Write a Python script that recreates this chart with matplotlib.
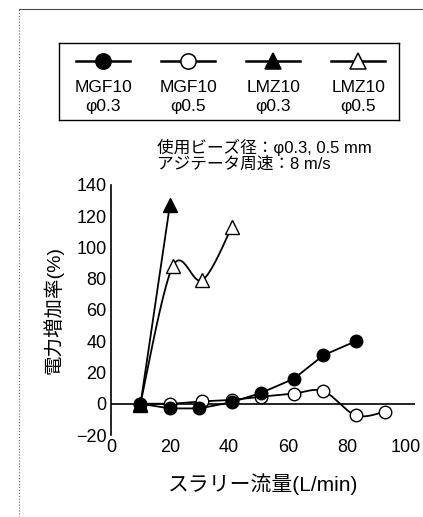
import numpy as np
import matplotlib.pyplot as plt
from matplotlib.lines import Line2D

plt.rcParams['font.family'] = ['Liberation Sans', 'Noto Sans CJK JP', 'DejaVu Sans']

# data
mgf03_x = [10, 20, 30, 41, 51, 62, 72, 83]
mgf03_y = [0, -3, -3, 1, 7, 16, 31, 40]
mgf05_x = [10, 20, 31, 41, 51, 62, 72, 83, 93]
mgf05_y = [0, 0, 1.5, 2.5, 4.5, 6.5, 8, -7.5, -5]
lmz03_x = [10, 20]
lmz03_y = [-1, 127]
lmz05_x = [10, 21, 31, 41]
lmz05_y = [0, 88, 79, 113]

labels = ['MGF10\nφ0.3', 'MGF10\nφ0.5', 'LMZ10\nφ0.3', 'LMZ10\nφ0.5']
xticks = [0, 20, 40, 60, 80, 100]
yticks = [-20, 0, 20, 40, 60, 80, 100, 120, 140]


def smooth(x, y, n=20):
    # Catmull-Rom style path through the points (like Excel smoothed lines)
    x = np.asarray(x, float)
    y = np.asarray(y, float)
    px = np.concatenate([[x[0]], x, [x[-1]]])
    py = np.concatenate([[y[0]], y, [y[-1]]])
    cx, cy = [], []
    t = np.linspace(0, 1, n)
    for i in range(1, len(px) - 2):
        for p, out in ((px, cx), (py, cy)):
            p0, p1, p2, p3 = p[i - 1], p[i], p[i + 1], p[i + 2]
            out.extend(0.5 * ((2 * p1) + (-p0 + p2) * t
                              + (2 * p0 - 5 * p1 + 4 * p2 - p3) * t ** 2
                              + (-p0 + 3 * p1 - 3 * p2 + p3) * t ** 3))
    return cx, cy


fig = plt.figure(figsize=(4.23, 5.17), dpi=100)
ax = fig.add_axes([0.262, 0.1586, 0.719, 0.484])

lw = 1.3
ax.axhline(0, color='black', lw=1.2, zorder=1)
ax.plot(mgf03_x, mgf03_y, color='black', lw=lw, marker='o', ms=9,
        mfc='black', mec='black', zorder=4)
sx, sy = smooth(mgf05_x, mgf05_y)
ax.plot(sx, sy, color='black', lw=lw, zorder=3)
ax.plot(mgf05_x, mgf05_y, ls='none', marker='o', ms=9, mfc='white',
        mec='black', mew=1.0, zorder=3)
ax.plot(lmz03_x, lmz03_y, color='black', lw=lw, marker='^', ms=10,
        mfc='black', mec='black', zorder=5)
sx, sy = smooth(lmz05_x, lmz05_y)
ax.plot(sx, sy, color='black', lw=lw, zorder=3)
ax.plot(lmz05_x, lmz05_y, ls='none', marker='^', ms=10, mfc='white',
        mec='black', mew=1.0, zorder=3)

ax.set_xlim(0, 103)
ax.set_ylim(-20, 140)
ax.set_xticks(xticks)
ax.set_yticks(yticks)
ax.set_yticklabels(['\u221220' if v < 0 else str(v) for v in yticks])
ax.tick_params(length=0, labelsize=13, pad=3)
for s in ['top', 'right', 'bottom']:
    ax.spines[s].set_visible(False)
ax.spines['left'].set_linewidth(1.2)
ax.set_ylabel('電力増加率(%)', fontsize=14, labelpad=9)
ax.set_xlabel('スラリー流量(L/min)', fontsize=15, labelpad=12)

# legend box
lax = fig.add_axes([59 / 423, 1 - 120 / 517, 340 / 423, 77 / 517])
lax.set_xlim(0, 4)
lax.set_ylim(0, 1)
lax.set_xticks([])
lax.set_yticks([])
for s in lax.spines.values():
    s.set_linewidth(1.0)
styles = [('o', 'black'), ('o', 'white'), ('^', 'black'), ('^', 'white')]
for i, ((m, fc), lab) in enumerate(zip(styles, labels)):
    c = i + 0.52
    lax.add_line(Line2D([c - 0.32, c + 0.32], [0.76, 0.76], color='black', lw=1.8))
    lax.plot([c], [0.76], marker=m, ms=11, mfc=fc, mec='black', mew=1.1)
    lax.text(c, 0.30, lab, ha='center', va='center', fontsize=12.5,
             linespacing=1.3)

fig.text(157 / 423, 1 - 147 / 517, '使用ビーズ径：φ0.3, 0.5 mm',
         fontsize=12, va='center', ha='left')
fig.text(157 / 423, 1 - 164 / 517, 'アジテータ周速：8 m/s',
         fontsize=12, va='center', ha='left')

# page frame lines (left and top)
fig.add_artist(Line2D([19 / 423, 19 / 423], [0, 1 - 9 / 517], color='0.4', lw=0.8, ls=':'))
fig.add_artist(Line2D([19 / 423, 1], [1 - 9 / 517, 1 - 9 / 517], color='0.3', lw=0.8))

fig.savefig('out.png', dpi=100)
